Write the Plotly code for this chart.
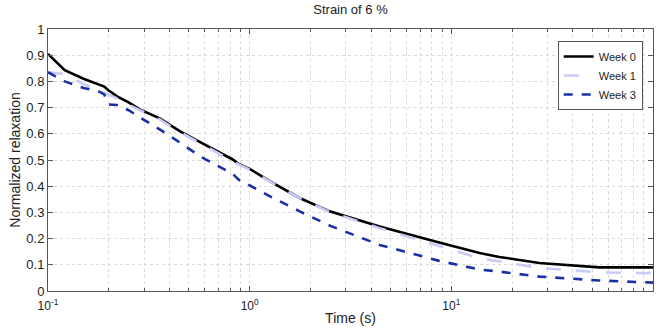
import plotly.graph_objects as go

# time (s) and normalized relaxation
time_s = [0.1, 0.121, 0.15, 0.181, 0.19, 0.2, 0.22, 0.251, 0.285, 0.358, 0.45,
          0.565, 0.687, 0.824, 0.891, 1.0, 1.256, 1.77, 2.49, 4.41, 8.71,
          13.8, 17.3, 27.3, 54.1, 100.0]
week0 = [0.905, 0.843, 0.81, 0.785, 0.78, 0.765, 0.743, 0.72, 0.693, 0.659, 0.61,
         0.569, 0.533, 0.502, 0.483, 0.466, 0.419, 0.355, 0.304, 0.246, 0.185,
         0.145, 0.13, 0.107, 0.09, 0.09]
week1 = [0.835, 0.828, 0.79, 0.762, 0.755, 0.75, 0.735, 0.712, 0.69, 0.655, 0.607,
         0.565, 0.53, 0.498, 0.481, 0.464, 0.418, 0.355, 0.302, 0.24, 0.173,
         0.125, 0.113, 0.088, 0.071, 0.068]
week3 = [0.835, 0.80, 0.775, 0.76, 0.75, 0.712, 0.71, 0.69, 0.663, 0.617, 0.567,
         0.515, 0.48, 0.447, 0.422, 0.403, 0.362, 0.304, 0.25, 0.176, 0.115,
         0.082, 0.074, 0.055, 0.04, 0.032]

series = [
    ("Week 0", week0, "black", "solid"),
    ("Week 1", week1, "#c8caf7", "longdash"),
    ("Week 3", week3, "#1b2fa6", "dash"),
]

fig = go.Figure()
for name, vals, color, dash in series:
    fig.add_trace(go.Scatter(x=time_s, y=vals, mode="lines", name=name,
                             line=dict(color=color, width=2.6, dash=dash)))

minor_vals = [m * 10 ** e for e in (-1, 0, 1) for m in range(2, 10)]

grid = "#dadada"
fig.update_layout(
    width=658, height=329,
    margin=dict(l=48, r=5, t=29, b=38, autoexpand=False),
    paper_bgcolor="white", plot_bgcolor="white",
    font=dict(family="Liberation Sans, Arial, sans-serif", size=12, color="#222"),
    title=dict(text="Strain of 6 %", xref="paper", x=0.5, xanchor="center",
               y=0.985, yanchor="top", font=dict(size=13), automargin=False),
    showlegend=True,
    legend=dict(x=0.983, y=0.954, xanchor="right", yanchor="top",
                bgcolor="white", bordercolor="#555", borderwidth=1,
                font=dict(size=11), tracegroupgap=0, itemwidth=30),
)

fig.update_xaxes(
    type="log", range=[-1, 2], automargin=False,
    tickvals=[0.1, 1, 10, 100],
    ticktext=["10<sup>-1</sup>", "10<sup>0</sup>", "10<sup>1</sup>", "10<sup>2</sup>"],
    tickfont=dict(size=12), ticklabelstandoff=4,
    ticks="inside", ticklen=5, tickcolor="#555",
    showline=True, linecolor="#555", linewidth=1, mirror="ticks",
    showgrid=True, gridcolor=grid, griddash="dot", gridwidth=1,
    minor=dict(tickvals=minor_vals, ticks="inside", ticklen=3, tickcolor="#555",
               showgrid=True, gridcolor=grid, griddash="dot"),
    zeroline=False,
    title=dict(text="Time (s)", standoff=0, font=dict(size=14)),
)
fig.update_yaxes(
    range=[0, 1], dtick=0.1, tickformat="~g", automargin=False,
    tickfont=dict(size=13),
    ticks="inside", ticklen=5, tickcolor="#555",
    showline=True, linecolor="#555", linewidth=1, mirror="ticks",
    showgrid=True, gridcolor=grid, griddash="dot", gridwidth=1,
    zeroline=False,
    title=dict(text="Normalized relaxation", standoff=2, font=dict(size=14)),
)

# drop the page's default body margin so the figure sits at the window corner
fig.write_html("out.html", config={"displayModeBar": False},
               post_script="document.body.style.margin = '0';")
